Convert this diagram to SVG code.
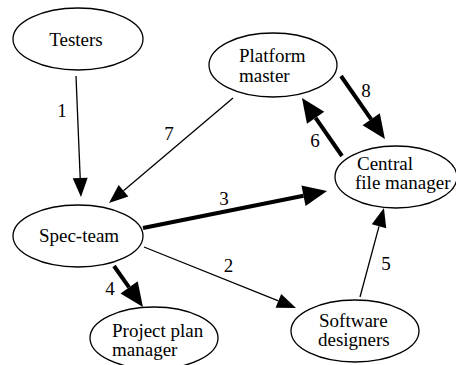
<svg xmlns="http://www.w3.org/2000/svg" width="456" height="365" viewBox="0 0 456 365">
  <style>
    .node ellipse { fill: #ffffff; stroke: #000000; stroke-width: 1.3; }
    .edges line { stroke: #000000; fill: none; }
    .thin { stroke-width: 1.3; marker-end: url(#headThin); }
    .thick { stroke-width: 4; marker-end: url(#headThick); }
  </style>
  <defs>
    <marker id="headThin" markerUnits="userSpaceOnUse" markerWidth="19" markerHeight="15" refX="0" refY="7.5" orient="auto" overflow="visible">
      <path d="M0,0 L19,7.5 L0,15 Z" fill="#000000"/>
    </marker>
    <marker id="headThick" markerUnits="userSpaceOnUse" markerWidth="24" markerHeight="21" refX="0" refY="10.5" orient="auto" overflow="visible">
      <path d="M0,0 L24,10.5 L0,21 Z" fill="#000000"/>
    </marker>
  </defs>

  <rect width="456" height="365" fill="#ffffff"/>

  <g font-family="Times New Roman, Liberation Serif, Tinos, Noto Serif, DejaVu Serif, serif" font-size="19" fill="#000000">
    <!-- connectors: each line stops at the base of its arrowhead -->
    <g id="edges" class="edges">
      <line id="e1" class="thin" x1="76" y1="76" x2="80.2" y2="178"/>
      <line id="e7" class="thin" x1="233" y1="98" x2="123.5" y2="190.7"/>
      <line id="e3" class="thick" x1="143" y1="228" x2="303.5" y2="195.7"/>
      <line id="e2" class="thin" x1="144" y1="247" x2="278.4" y2="300.9"/>
      <line id="e4" class="thick" x1="114" y1="266" x2="129.1" y2="287.4"/>
      <line id="e5" class="thin" x1="360" y1="297" x2="379" y2="226.3"/>
      <line id="e6" class="thick" x1="342" y1="156" x2="315.6" y2="117.8"/>
      <line id="e8" class="thick" x1="341" y1="76" x2="371.2" y2="119.3"/>
      <g text-anchor="middle">
        <text x="62" y="117">1</text>
        <text x="169" y="140">7</text>
        <text x="224" y="205">3</text>
        <text x="228.5" y="272">2</text>
        <text x="110" y="295">4</text>
        <text x="386" y="270">5</text>
        <text x="315" y="147">6</text>
        <text x="366" y="97">8</text>
      </g>
    </g>

    <g id="testers" class="node">
      <ellipse cx="78" cy="39" rx="65" ry="31"/>
      <text x="76" y="46" text-anchor="middle">Testers</text>
    </g>

    <g id="platform-master" class="node">
      <ellipse cx="273" cy="65" rx="64" ry="32"/>
      <text x="239" y="62">Platform</text>
      <text x="239" y="82">master</text>
    </g>

    <g id="central-file-manager" class="node">
      <ellipse cx="396" cy="177" rx="61" ry="31"/>
      <text x="357" y="170">Central</text>
      <text x="355" y="189">file manager</text>
    </g>

    <g id="spec-team" class="node">
      <ellipse cx="78" cy="236" rx="65" ry="31"/>
      <text x="79" y="242" text-anchor="middle">Spec-team</text>
    </g>

    <g id="project-plan-manager" class="node">
      <ellipse cx="154" cy="338" rx="64" ry="31"/>
      <text x="112" y="337">Project plan</text>
      <text x="112" y="356">manager</text>
    </g>

    <g id="software-designers" class="node">
      <ellipse cx="355" cy="331" rx="64" ry="31"/>
      <text x="319" y="327">Software</text>
      <text x="318" y="346">designers</text>
    </g>
  </g>
</svg>
